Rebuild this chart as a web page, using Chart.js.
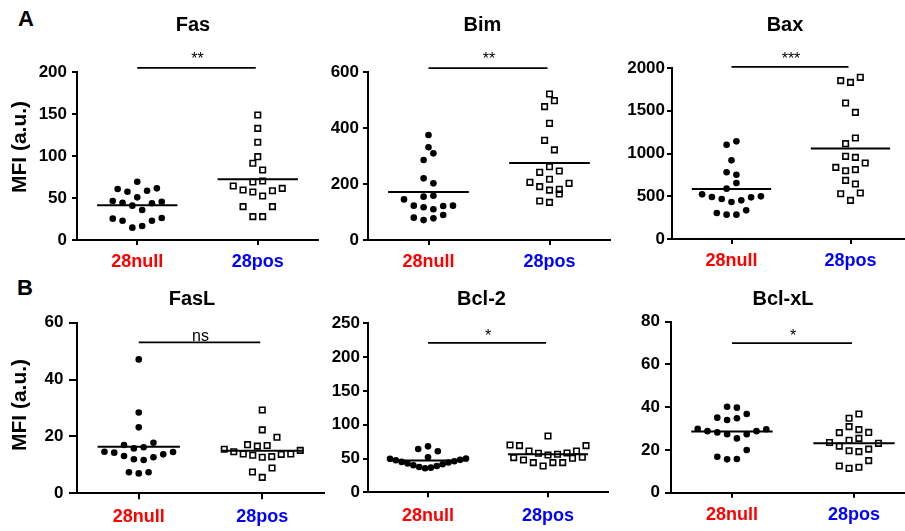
<!DOCTYPE html>
<html>
<head>
<meta charset="utf-8">
<script src="https://cdn.jsdelivr.net/npm/chart.js@4.4.1/dist/chart.umd.min.js"></script>
<style>
html, body { margin: 0; padding: 0; width: 905px; height: 531px; overflow: hidden; background: #fff; }
canvas { position: absolute; }
.lbl { position: absolute; font: bold 22px "Liberation Sans", Arial, sans-serif; line-height: 22px; color: #000; }
</style>
</head>
<body>
<div class="lbl" style="left:18px;top:8px">A</div>
<div class="lbl" style="left:17px;top:277px">B</div>
<script>
// ---------------- data ----------------
const categories = ['28null', '28pos'];
const categoryColors = ['#ff0000', '#0000ff'];
const panelTitles = ['Fas', 'Bim', 'Bax', 'FasL', 'Bcl-2', 'Bcl-xL'];
const sigLabels = ['**', '**', '***', 'ns', '*', '*'];
const yAxisTitle = 'MFI (a.u.)';

const fasNull = [69.4, 61.5, 58.7, 57.5, 60.7, 50.8, 46.4, 44.4, 40.9, 35.7, 43.7, 45.6, 25.4, 23.0, 23.0, 26.2, 14.7, 16.7];
const fasPos = [148.8, 132.9, 116.3, 99.2, 91.3, 83.3, 70.2, 69.0, 64.3, 61.5, 59.5, 58.7, 57.1, 52.4, 39.7, 39.7, 27.8, 27.8];
const bimNull = [375, 331, 309.5, 285.7, 220.2, 202.4, 158.3, 154.8, 145.0, 122.6, 116.7, 110.0, 121.4, 122.6, 79.8, 71.0, 77.4, 89.3];
const bimPos = [521.4, 497.6, 476.2, 416.7, 356.0, 322.0, 261.9, 246.4, 241.7, 217.0, 202.4, 206.0, 190.5, 181.0, 178.0, 164.3, 134.5, 139.3];
const baxNull = [1142, 1103, 920, 780, 752, 655, 589, 499, 487, 452, 433, 468, 491, 522, 304, 285, 285, 335];
const baxPos = [1891, 1832, 1852, 1590, 1481, 1181, 1115, 967, 955, 889, 838, 799, 811, 686, 643, 538, 530, 452];
const faslNull = [47.1, 28.4, 23.2, 17.8, 17.0, 16.2, 15.8, 14.6, 14.3, 13.7, 14.5, 13.1, 12.0, 11.7, 12.7, 7.4, 7.0, 7.4];
const faslPos = [29.3, 22.3, 19.7, 17.1, 16.6, 16.8, 15.1, 15.5, 13.8, 13.8, 12.9, 12.7, 13.4, 13.7, 14.6, 8.9, 7.5, 5.6];
const bcl2Null = [68.0, 64.1, 60.7, 51.8, 49.5, 47.5, 45.0, 42.5, 40.0, 37.5, 35.5, 36.5, 39.0, 41.5, 44.0, 46.0, 48.0, 50.0];
const bcl2Pos = [83.3, 69.0, 69.0, 70.0, 61.1, 58.2, 56.2, 55.2, 57.7, 61.1, 51.3, 50.3, 51.8, 47.8, 43.9, 43.9, 43.9, 39.0];
const bclxlNull = [40.2, 39.8, 36.8, 35.1, 34.0, 34.8, 29.9, 28.8, 28.2, 27.4, 27.4, 28.8, 29.7, 25.4, 20.0, 16.8, 15.6, 15.8];
const bclxlPos = [36.8, 34.8, 30.9, 29.5, 28.1, 28.2, 24.5, 25.4, 23.5, 23.1, 21.8, 19.6, 19.2, 20.4, 15.0, 12.5, 11.4, 11.9];

const fasTicks = [0, 50, 100, 150, 200];
const bimTicks = [0, 200, 400, 600];
const baxTicks = [0, 500, 1000, 1500, 2000];
const faslTicks = [0, 20, 40, 60];
const bcl2Ticks = [0, 50, 100, 150, 200, 250];
const bclxlTicks = [0, 20, 40, 60, 80];

// significance bar heights (axis units)
const sigValues = [204.8, 614, 2012, 53.1, 220.9, 70];

// ---------------- layout ----------------
const FONT = '"Liberation Sans", Arial, sans-serif';
Chart.defaults.font.family = FONT;
Chart.defaults.color = '#000';

const panels = [
  { title: panelTitles[0], data: [fasNull, fasPos], ticks: fasTicks, sig: sigLabels[0], sigValue: sigValues[0],
    box: [0, 0, 386, 270], yW: 77, rightW: 68, xH: 30, tPad: [13.8, 34.2], yTick: [5, 5], xTick: [5, 5.85], gap: 3.7, yTitle: [20.7, 147] },
  { title: panelTitles[1], data: [bimNull, bimPos], ticks: bimTicks, sig: sigLabels[1], sigValue: sigValues[1],
    box: [320, 0, 325, 270], yW: 48, rightW: 35, xH: 30, tPad: [13.8, 34.2], yTick: [5, 4], xTick: [5, 5.85], gap: 3.7 },
  { title: panelTitles[2], data: [baxNull, baxPos], ticks: baxTicks, sig: sigLabels[2], sigValue: sigValues[2],
    box: [624, 0, 322, 270], yW: 48, rightW: 36, xH: 31, tPad: [13.8, 30.2], yTick: [5, 2], xTick: [5, 5.85], gap: 3.2 },
  { title: panelTitles[3], data: [faslNull, faslPos], ticks: faslTicks, sig: sigLabels[3], sigValue: sigValues[3],
    box: [0, 270, 384, 261], yW: 77, rightW: 60, xH: 37.7, tPad: [17, 11.7], yTick: [8, 5.5], xTick: [6, 6.55], gap: 1.6, yTitle: [20.7, 135] },
  { title: panelTitles[4], data: [bcl2Null, bcl2Pos], ticks: bcl2Ticks, sig: sigLabels[4], sigValue: sigValues[4],
    box: [320, 270, 323, 261], yW: 48, rightW: 35, xH: 38.7, tPad: [17, 12.3], yTick: [5, 3], xTick: [5, 7.85], gap: 2.2 },
  { title: panelTitles[5], data: [bclxlNull, bclxlPos], ticks: bclxlTicks, sig: sigLabels[5], sigValue: sigValues[5],
    box: [623, 270, 320, 261], yW: 48, rightW: 28, xH: 38.3, tPad: [17, 10.7], yTick: [6, 5], xTick: [5, 6.45], gap: 2.2 }
];

// scatter-dot-plot spreading (computed from pixel positions given by the y scale)
const SLOT = 9.8, BIN = 10.35, MAXHALF = 38;
function swarmOffsets(py) {
  const order = py.map((y, i) => i).sort((a, b) => py[b] - py[a]);
  const off = new Array(py.length).fill(0);
  let side = -1, k = 0;
  while (k < order.length) {
    const start = py[order[k]];
    const bin = [];
    while (k < order.length && start - py[order[k]] <= BIN) { bin.push(order[k]); k++; }
    const n = bin.length;
    if (n > 1) {
      const step = Math.min(SLOT, 2 * MAXHALF / (n - 1));
      bin.forEach((idx, j) => {
        let m, s;
        if (n % 2) {
          if (j === 0) { off[idx] = 0; return; }
          m = Math.ceil(j / 2); s = (j % 2 === 1) ? side : -side;
        } else {
          m = Math.floor(j / 2) + 0.5; s = (j % 2 === 0) ? side : -side;
        }
        off[idx] = s * m * step;
      });
      side = -side;
    }
  }
  return off;
}

const swarmPlugin = {
  id: 'swarm',
  afterDatasetsUpdate(chart) {
    chart.data.datasets.forEach((ds, i) => {
      const meta = chart.getDatasetMeta(i);
      const off = swarmOffsets(meta.data.map(p => p.y));
      meta.data.forEach((p, j) => { p.x += off[j]; });
    });
  }
};

const annotPlugin = {
  id: 'annot',
  afterDatasetsDraw(chart, args, opts) {
    const { ctx } = chart;
    const x = chart.scales.x, y = chart.scales.y;
    const half = x.width / categories.length / 3;
    ctx.save();
    ctx.strokeStyle = '#000';
    ctx.lineWidth = 2;
    chart.data.datasets.forEach((ds, i) => {
      const vals = ds.data.map(d => d.y);
      const mean = vals.reduce((a, b) => a + b, 0) / vals.length;
      const cx = x.getPixelForValue(i), py = y.getPixelForValue(mean);
      ctx.beginPath(); ctx.moveTo(cx - half, py); ctx.lineTo(cx + half, py); ctx.stroke();
    });
    const x0 = x.getPixelForValue(0), x1 = x.getPixelForValue(1), sy = y.getPixelForValue(opts.value);
    ctx.lineWidth = 1.7;
    ctx.beginPath(); ctx.moveTo(x0, sy); ctx.lineTo(x1 - 2, sy); ctx.stroke();
    ctx.fillStyle = '#000';
    ctx.font = '16px ' + FONT;
    ctx.textAlign = 'center';
    ctx.textBaseline = 'alphabetic';
    ctx.fillText(opts.label, (x0 + x1) / 2, sy - opts.gap);
    ctx.restore();
  }
};

const yTitlePlugin = {
  id: 'ytitle',
  afterDraw(chart, args, opts) {
    if (!opts || !opts.text) return;
    const ctx = chart.ctx;
    ctx.save();
    ctx.translate(opts.x, opts.y);
    ctx.rotate(-Math.PI / 2);
    ctx.font = 'bold 21px ' + FONT;
    ctx.fillStyle = '#000';
    ctx.textAlign = 'center';
    ctx.textBaseline = 'middle';
    ctx.fillText(opts.text, 0, 0);
    ctx.restore();
  }
};

panels.forEach((p) => {
  const cv = document.createElement('canvas');
  cv.width = p.box[2]; cv.height = p.box[3];
  cv.style.left = p.box[0] + 'px'; cv.style.top = p.box[1] + 'px';
  cv.style.width = p.box[2] + 'px'; cv.style.height = p.box[3] + 'px';
  document.body.appendChild(cv);

  new Chart(cv, {
    type: 'scatter',
    data: {
      datasets: p.data.map((vals, gi) => ({
        label: categories[gi],
        data: vals.map(v => ({ x: categories[gi], y: v })),
        pointStyle: gi === 0 ? 'circle' : 'rect',
        pointRadius: gi === 0 ? 3.3 : 3.9,
        pointHoverRadius: gi === 0 ? 3.3 : 3.9,
        backgroundColor: gi === 0 ? '#000' : 'rgba(0,0,0,0)',
        borderColor: '#000',
        borderWidth: gi === 0 ? 0 : 1.6,
        clip: false
      }))
    },
    options: {
      responsive: false,
      animation: false,
      events: [],
      devicePixelRatio: 1,
      layout: { padding: 0 },
      plugins: {
        legend: { display: false },
        tooltip: { enabled: false },
        title: { display: true, text: p.title, color: '#000', font: { size: 20, weight: 'bold' },
                 padding: { top: p.tPad[0], bottom: p.tPad[1] } },
        annot: { label: p.sig, value: p.sigValue, gap: p.gap },
        ytitle: p.yTitle ? { text: yAxisTitle, x: p.yTitle[0], y: p.yTitle[1] } : {}
      },
      scales: {
        x: {
          type: 'category', labels: categories, offset: true,
          grid: { display: true, offset: false, drawOnChartArea: false, drawTicks: true,
                  tickLength: p.xTick[0], color: '#000', lineWidth: 2 },
          border: { display: true, color: '#000', width: 2 },
          ticks: { color: c => categoryColors[c.index], font: { size: 18, weight: 'bold' },
                   padding: p.xTick[1], autoSkip: false, maxRotation: 0 },
          afterFit: s => { s.height = p.xH; }
        },
        y: {
          type: 'linear', position: 'left', min: p.ticks[0], max: p.ticks[p.ticks.length - 1],
          afterBuildTicks: s => { s.ticks = p.ticks.map(v => ({ value: v })); },
          grid: { display: true, drawOnChartArea: false, drawTicks: true,
                  tickLength: p.yTick[0], color: '#000', lineWidth: 2 },
          border: { display: true, color: '#000', width: 2 },
          ticks: { color: '#000', font: { size: 17, weight: 'bold' }, padding: p.yTick[1],
                   callback: v => String(v) },
          afterFit: s => { s.width = p.yW; }
        },
        spacer: {
          type: 'linear', position: 'right', display: true,
          grid: { display: false }, border: { display: false }, ticks: { display: false },
          afterFit: s => { s.width = p.rightW; }
        }
      }
    },
    plugins: [swarmPlugin, annotPlugin, yTitlePlugin]
  });
});
</script>
</body>
</html>
